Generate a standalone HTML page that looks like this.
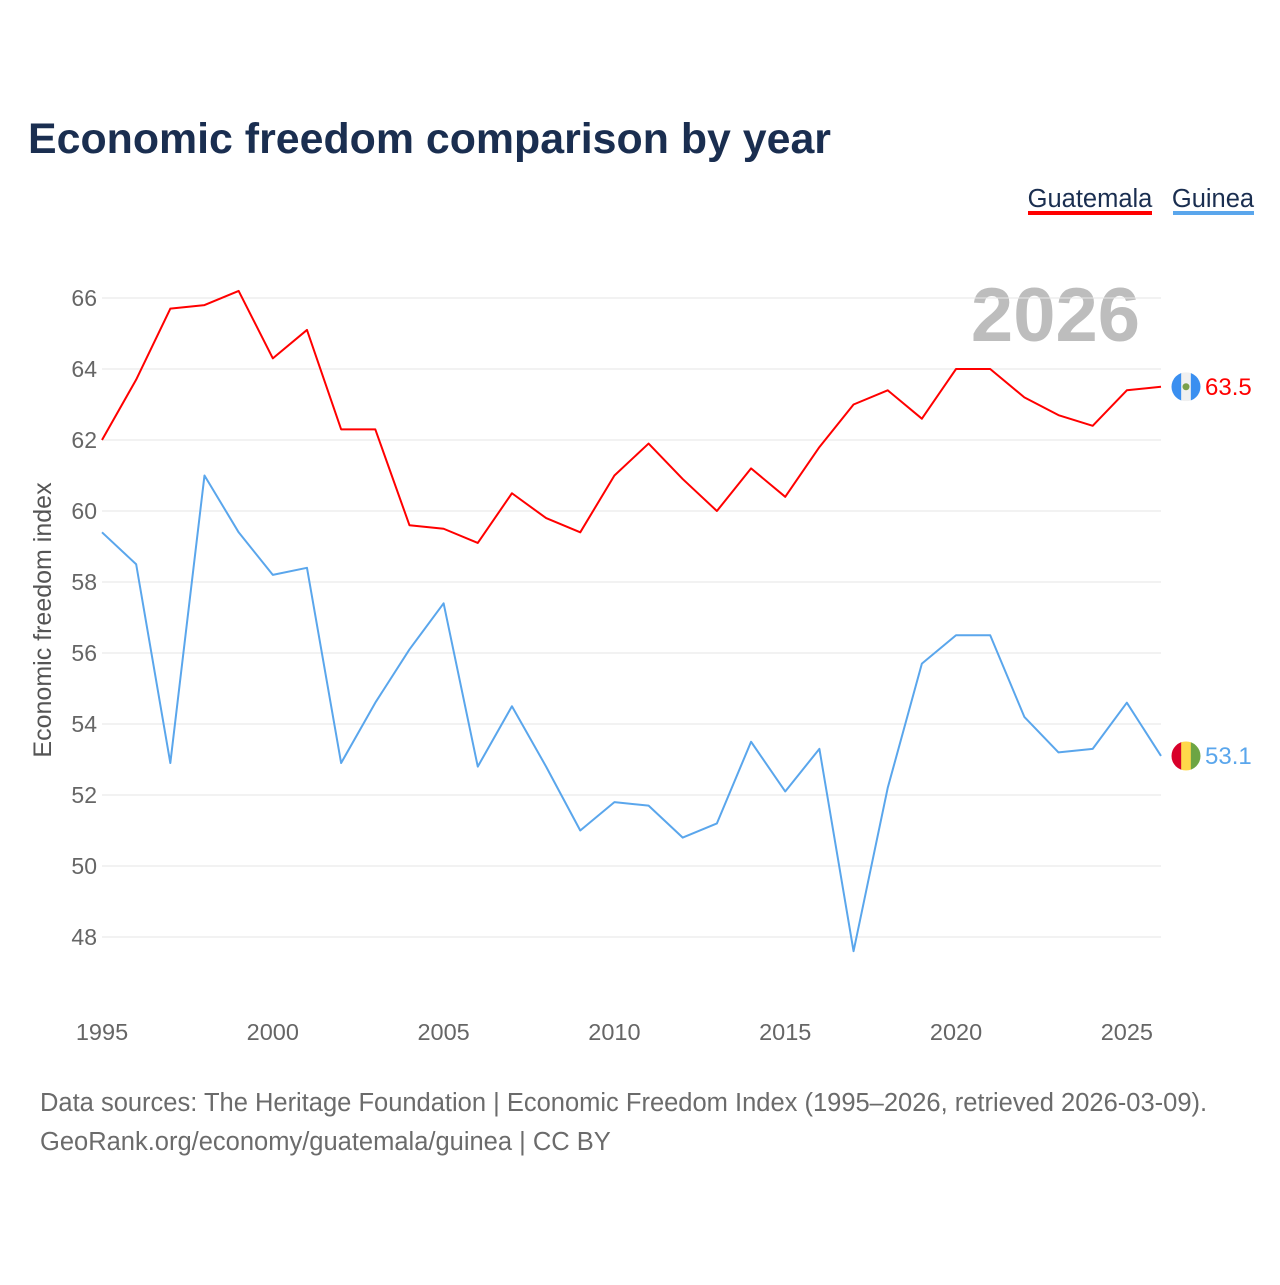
<!DOCTYPE html>
<html><head><meta charset="utf-8"><style>
body{margin:0;background:#fff;font-family:"Liberation Sans",sans-serif}
svg text{font-family:"Liberation Sans",sans-serif}
</style></head><body>
<svg id="chart" width="1280" height="1280" xmlns="http://www.w3.org/2000/svg">
<rect width="1280" height="1280" fill="#fff"/>
<text x="28" y="153" font-size="43" font-weight="bold" fill="#1a2e50" textLength="803" lengthAdjust="spacingAndGlyphs">Economic freedom comparison by year</text>
<g><text x="1090" y="207" font-size="25.5" fill="#1a2e50" text-anchor="middle">Guatemala</text><rect x="1028" y="211" width="124" height="4" fill="#ff0000"/></g>
<g><text x="1213" y="207" font-size="25.5" fill="#1a2e50" text-anchor="middle">Guinea</text><rect x="1173" y="211" width="81" height="4" fill="#5aa6ec"/></g>
<text x="1140" y="341" font-size="76" font-weight="bold" fill="#bdbdbd" text-anchor="end">2026</text>
<text transform="translate(51,620) rotate(-90)" font-size="25" fill="#555" text-anchor="middle">Economic freedom index</text>
<g id="grid"></g><g id="lines"></g>
<text x="40" y="1111" font-size="25.5" fill="#6b6b6b">Data sources: The Heritage Foundation | Economic Freedom Index (1995–2026, retrieved 2026-03-09).</text>
<text x="40" y="1150" font-size="25.5" fill="#6b6b6b">GeoRank.org/economy/guatemala/guinea | CC BY</text>
</svg>
<script>
const years=[1995,1996,1997,1998,1999,2000,2001,2002,2003,2004,2005,2006,2007,2008,2009,2010,2011,2012,2013,2014,2015,2016,2017,2018,2019,2020,2021,2022,2023,2024,2025,2026];
const guatemala=[62.0,63.7,65.7,65.8,66.2,64.3,65.1,62.3,62.3,59.6,59.5,59.1,60.5,59.8,59.4,61.0,61.9,60.9,60.0,61.2,60.4,61.8,63.0,63.4,62.6,64.0,64.0,63.2,62.7,62.4,63.4,63.5];
const guinea=[59.4,58.5,52.9,61.0,59.4,58.2,58.4,52.9,54.6,56.1,57.4,52.8,54.5,52.8,51.0,51.8,51.7,50.8,51.2,53.5,52.1,53.3,47.6,52.2,55.7,56.5,56.5,54.2,53.2,53.3,54.6,53.1];
const yTicks=[48,50,52,54,56,58,60,62,64,66];
const xTicks=[1995,2000,2005,2010,2015,2020,2025];
const NS="http://www.w3.org/2000/svg";
const x=v=>102+(v-1995)*(1161-102)/31;
const y=v=>298+(66-v)*(937-298)/18;
function mk(t,a,p){const e=document.createElementNS(NS,t);for(const k in a)e.setAttribute(k,a[k]);p.appendChild(e);return e;}
const grid=document.getElementById('grid'),lines=document.getElementById('lines');
yTicks.forEach(t=>{
 const l=mk('line',{x1:102,x2:1161,y1:y(t),y2:y(t),stroke:'#e6e6e6','stroke-width':1},grid);
 
 
 const tx=mk('text',{x:97,y:y(t)+8,'font-size':23,fill:'#666','text-anchor':'end'},grid);tx.textContent=t;
 
 
});
xTicks.forEach(t=>{
 const tx=mk('text',{x:x(t),y:1040,'font-size':23.5,fill:'#666','text-anchor':'middle'},grid);tx.textContent=t;
 
 
});
function series(vals,color,name){
 const p=mk('polyline',{points:vals.map((v,i)=>x(years[i])+','+y(v)).join(' '),fill:'none',stroke:color,'stroke-width':2,'stroke-linejoin':'round'},lines);
 
 
 const last=vals[vals.length-1];
 const tx=mk('text',{x:1205,y:y(last)+8,'font-size':24,fill:color},lines);tx.textContent=last.toFixed(1);
 
 
 return y(last);
}
const gy=series(guatemala,'#ff0000','guatemala');
const ny=series(guinea,'#5aa6ec','guinea');
function flag(cy,cols,name){
 const g=mk('g',{},lines);
 
 
 const cid='c'+name;mk('clipPath',{id:cid},g);
 mk('circle',{cx:1186,cy:cy,r:14.5},g.lastChild);
 cols.forEach((c,i)=>mk('rect',{x:1171.5+i*29/3,y:cy-14.5,width:29/3+0.5,height:29,fill:c,'clip-path':'url(#'+cid+')'},g));
 return g;
}
const gf=flag(gy,['#3a8ff0','#f0f0f0','#3a8ff0'],'guatemala');
mk('circle',{cx:1186,cy:gy,r:3.5,fill:'#7aa04a'},gf);
flag(ny,['#d8002a','#ffd84a','#6da544'],'guinea');
</script>
</body></html>
